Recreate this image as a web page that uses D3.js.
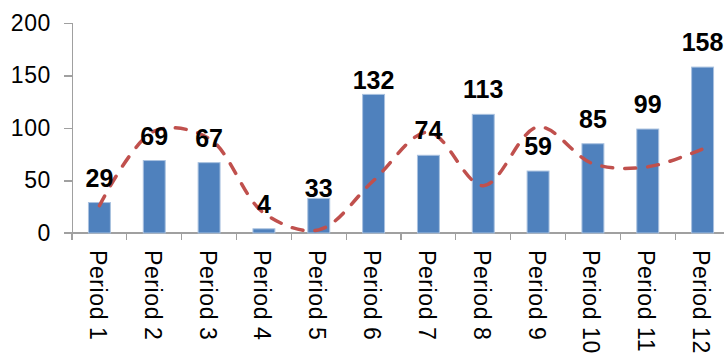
<!DOCTYPE html>
<html>
<head>
<meta charset="utf-8">
<script src="https://cdn.jsdelivr.net/npm/d3@7"></script>
<style>
    body { margin: 0; background: #fff; }
    svg { display: block; }
    .axis path, .axis line { stroke: #a0a0a0; stroke-width: 1.3; shape-rendering: crispEdges; }
    .tick-label { font-family: "Liberation Sans", Arial, sans-serif; font-size: 23px; letter-spacing: 0.6px; fill: #000; }
    .value-label { font-family: "Liberation Sans", Arial, sans-serif; font-size: 25px; font-weight: bold; fill: #000; }
</style>
</head>
<body>
<div id="chart"></div>
<script>
// data
var periods = ["Period 1", "Period 2", "Period 3", "Period 4", "Period 5", "Period 6",
    "Period 7", "Period 8", "Period 9", "Period 10", "Period 11", "Period 12"];
var barValues = [29, 69, 67, 4, 33, 132, 74, 113, 59, 85, 99, 158];
var lineValues = [26, 97, 90, 19, 3, 50, 96, 45, 101, 66, 63, 80];
var yTicks = [0, 50, 100, 150, 200];

var width = 724,
    height = 356;
var margin = {top: 23, left: 72, bottom: 123};
var plotWidth = 658; // last category runs off the right edge, like the original

var svg = d3.select("#chart")
    .append("svg")
    .attr("width", width)
    .attr("height", height);

var x = d3.scaleBand()
    .domain(periods)
    .range([margin.left, margin.left + plotWidth])
    .paddingInner(0.6)
    .paddingOuter(0.3);

var y = d3.scaleLinear()
    .domain([0, 200])
    .range([height - margin.bottom, margin.top]);

function center(d) {
    return x(d) + x.bandwidth() / 2;
}

// y axis
var yAxis = svg.append("g")
    .attr("class", "axis")
    .attr("transform", "translate(" + margin.left + ",0)")
    .call(d3.axisLeft(y).tickValues(yTicks).tickSize(8).tickPadding(13).tickFormat(d3.format("d")));
yAxis.selectAll("text")
    .attr("class", "tick-label")
    .attr("font-size", null)
    .attr("font-family", null);

// x axis: ticks sit on the category boundaries
var xAxisG = svg.append("g")
    .attr("class", "axis")
    .attr("transform", "translate(0," + y(0) + ")");
xAxisG.append("line")
    .attr("x1", margin.left - 8)
    .attr("x2", width)
    .attr("y1", 0)
    .attr("y2", 0);
xAxisG.selectAll(".xtick")
    .data(periods)
    .enter().append("line")
    .attr("class", "xtick")
    .attr("x1", function (d) { return x(d) - x.step() * x.paddingInner() / 2; })
    .attr("x2", function (d) { return x(d) - x.step() * x.paddingInner() / 2; })
    .attr("y1", 0)
    .attr("y2", 7);
xAxisG.selectAll(".xlabel")
    .data(periods)
    .enter().append("text")
    .attr("class", "tick-label")
    .attr("transform", function (d) {
        return "translate(" + (center(d) - 1.5) + ",17) rotate(90)";
    })
    .attr("dy", "0.35em")
    .attr("text-anchor", "start")
    .text(function (d) { return d; });

// bars
svg.append("g")
    .selectAll("rect")
    .data(barValues)
    .enter().append("rect")
    .attr("x", function (d, i) { return x(periods[i]); })
    .attr("y", function (d) { return y(d); })
    .attr("width", x.bandwidth())
    .attr("height", function (d) { return y(0) - y(d); })
    .attr("fill", "#4f81bd")
    .attr("stroke", "#a9c1df")
    .attr("stroke-width", 1);

// smoothed dashed line
var line = d3.line()
    .x(function (d, i) { return center(periods[i]); })
    .y(function (d) { return y(d); })
    .curve(d3.curveCatmullRom.alpha(0.5));

svg.append("path")
    .datum(lineValues)
    .attr("d", line)
    .attr("fill", "none")
    .attr("stroke", "#c0504d")
    .attr("stroke-width", 3.5)
    .attr("stroke-linecap", "round")
    .attr("stroke-dasharray", "11,12");

// value labels, a couple were nudged by hand in the original
var lift = {4: 1, 5: 5};
svg.append("g")
    .selectAll("text")
    .data(barValues)
    .enter().append("text")
    .attr("class", "value-label")
    .attr("x", function (d, i) { return center(periods[i]); })
    .attr("y", function (d, i) { return y(d) - (lift[i] !== undefined ? lift[i] : 16); })
    .attr("text-anchor", "middle")
    .text(function (d) { return d; });
</script>
</body>
</html>
